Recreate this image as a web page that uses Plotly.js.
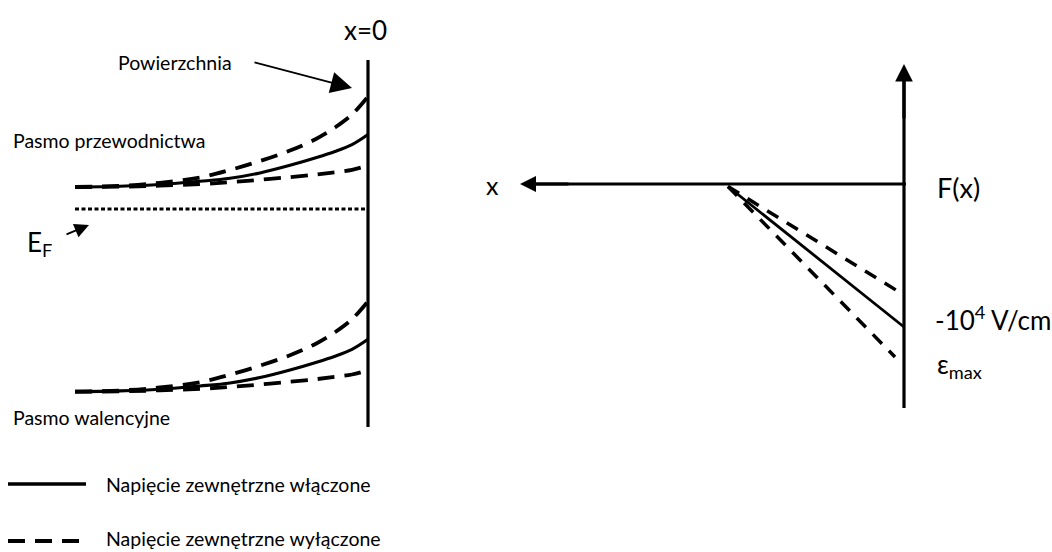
<!DOCTYPE html>
<html>
<head>
<meta charset="utf-8">
<script src="https://cdn.plot.ly/plotly-3.0.1.min.js"></script>
<style>
  html, body { margin: 0; padding: 0; background: #fff; }
  #chart { width: 1052px; height: 552px; }
</style>
</head>
<body>
<div id="chart"></div>
<script>
// Band bending at a semiconductor surface (left) and the electric field F(x) (right).
// Coordinates are in drawing units: x grows to the right, y grows downward.

// Left panel: sample positions from the bulk to the surface (x = 0 at the surface line)
const bandX = [75, 120, 160, 200, 230, 260, 290, 315, 335, 352, 368];

// Conduction band (Pasmo przewodnictwa)
const cbOn      = [187, 186.2, 184.5, 181.3, 178.3, 172.9, 165.3, 158.0, 151.5, 144.6, 134.5];
const cbOffHigh = [187, 185.8, 182.8, 177.5, 170.0, 161.0, 150.5, 139.5, 127.5, 114.5, 96.5];
const cbOffLow  = [187, 186.7, 185.6, 184.1, 182.2, 179.8, 177.1, 174.6, 172.2, 169.8, 165.5];

// Valence band (Pasmo walencyjne)
const vbOn      = [391.7, 390.9, 389.2, 386.0, 383.0, 377.6, 370.0, 362.7, 356.2, 349.3, 339.2];
const vbOffHigh = [391.7, 390.5, 387.5, 382.2, 374.7, 365.7, 355.2, 344.2, 332.2, 319.2, 301.2];
const vbOffLow  = [391.7, 391.4, 390.3, 388.8, 386.9, 384.5, 381.8, 379.3, 376.9, 374.5, 370.2];

// Fermi level
const fermiX = [75, 367];
const fermiY = [209, 209];

// Surface line x = 0
const surfaceX = [368, 368];
const surfaceY = [60, 427];

// Right panel: field axes and field profiles
const fieldAxisX = [906, 530];
const fieldAxisY = [184, 184];
const fieldVertX = [904, 904];
const fieldVertY = [408, 76];

const fieldStartX = 728, fieldStartY = 186.5;
const fieldOnEnd      = [904, 327];
const fieldOffLowEnd  = [904, 295];
const fieldOffHighEnd = [895, 357];

// Legend samples
const legendSolidX = [8, 86];
const legendSolidY = [484, 484];
const legendDashX  = [8, 81];
const legendDashY  = [541, 541];

const ink = '#000000';
const font = 'Lato, "Liberation Sans", sans-serif';

function line(x, y, width, dash) {
  return {
    x: x, y: y, type: 'scatter', mode: 'lines', hoverinfo: 'skip',
    line: { color: ink, width: width, dash: dash || 'solid', shape: 'spline', smoothing: 1 }
  };
}

const bandDash = '17px,10px';
const fieldDash = '13px,10px';

const traces = [
  line(surfaceX, surfaceY, 3.2),
  line(bandX, cbOn, 3.1),
  line(bandX, cbOffHigh, 3.8, bandDash),
  line(bandX, cbOffLow, 3.8, bandDash),
  line(fermiX, fermiY, 3.2, '4px,2.5px'),
  line(bandX, vbOn, 3.1),
  line(bandX, vbOffHigh, 3.8, bandDash),
  line(bandX, vbOffLow, 3.8, bandDash),
  line(fieldAxisX, fieldAxisY, 3.2),
  line(fieldVertX, fieldVertY, 3.2),
  line([fieldStartX, fieldOnEnd[0]], [fieldStartY, fieldOnEnd[1]], 2.8),
  line([fieldStartX, fieldOffLowEnd[0]], [fieldStartY, fieldOffLowEnd[1]], 3.5, fieldDash),
  line([fieldStartX, fieldOffHighEnd[0]], [fieldStartY, fieldOffHighEnd[1]], 3.5, fieldDash),
  line(legendSolidX, legendSolidY, 3.4),
  line(legendDashX, legendDashY, 4, '17px,10px')
];

function label(text, x, y, size, anchor) {
  return {
    text: text, x: x, y: y, xref: 'x', yref: 'y', showarrow: false,
    xanchor: anchor || 'left', yanchor: 'middle',
    font: { family: font, size: size, color: ink }
  };
}

function arrow(x0, y0, x1, y1, width, size) {
  return {
    text: '', x: x1, y: y1, ax: x0, ay: y0, xref: 'x', yref: 'y', axref: 'x', ayref: 'y',
    showarrow: true, arrowhead: 2, arrowwidth: width, arrowsize: size, arrowcolor: ink
  };
}

const annotations = [
  label('x=0', 365, 30, 26, 'center'),
  label('Powierzchnia', 116, 62, 19.5),
  label('Pasmo przewodnictwa', 11, 140, 19.5),
  label('E<sub>F</sub>', 25, 243, 26),
  label('Pasmo walencyjne', 11, 417, 19.5),
  label('Napięcie zewnętrzne włączone', 104, 484, 19.5),
  label('Napięcie zewnętrzne wyłączone', 104, 538, 19.5),
  label('x', 484, 185, 25),
  label('F(x)', 935, 187, 27),
  label('-10<sup>4</sup> V/cm', 933, 318, 26),
  label('ε<sub>max</sub>', 935, 365, 26),
  arrow(253, 62, 352, 88, 1.7, 2.5),
  arrow(65, 235, 89, 225, 1.8, 1.6),
  arrow(570, fieldAxisY[0], 520, fieldAxisY[0], 3.2, 1),
  arrow(fieldVertX[0], 120, fieldVertX[0], 64, 3.2, 1.1)
];

const layout = {
  width: 1052, height: 552,
  margin: { l: 0, r: 0, t: 0, b: 0 },
  paper_bgcolor: '#ffffff', plot_bgcolor: '#ffffff',
  showlegend: false,
  xaxis: { range: [0, 1052], visible: false, fixedrange: true },
  yaxis: { range: [552, 0], visible: false, fixedrange: true },
  annotations: annotations
};

Plotly.newPlot('chart', traces, layout, { staticPlot: true, displayModeBar: false });
</script>
</body>
</html>
